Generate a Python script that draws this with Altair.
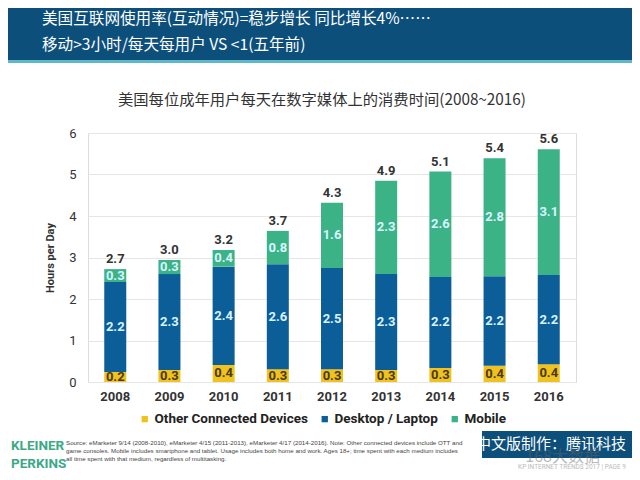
import altair as alt
import pandas as pd

years = ["2008", "2009", "2010", "2011", "2012", "2013", "2014", "2015", "2016"]
series = ["Other Connected Devices", "Desktop / Laptop", "Mobile"]
other = [0.24, 0.29, 0.41, 0.31, 0.31, 0.29, 0.34, 0.39, 0.43]
desktop = [2.17, 2.31, 2.37, 2.53, 2.44, 2.31, 2.19, 2.16, 2.15]
mobile = [0.31, 0.34, 0.40, 0.80, 1.57, 2.25, 2.54, 2.84, 3.03]
other_lbl = ["0.2", "0.3", "0.4", "0.3", "0.3", "0.3", "0.3", "0.4", "0.4"]
desktop_lbl = ["2.2", "2.3", "2.4", "2.6", "2.5", "2.3", "2.2", "2.2", "2.2"]
mobile_lbl = ["0.3", "0.3", "0.4", "0.8", "1.6", "2.3", "2.6", "2.8", "3.1"]
total_lbl = ["2.7", "3.0", "3.2", "3.7", "4.3", "4.9", "5.1", "5.4", "5.6"]
colors = ["#f0c21f", "#0b5e98", "#3cb386"]
label_colors = ["#4a3a0c", "#d8f3ff", "#d8f3ff"]

header1 = "美国互联网使用率(互动情况)=稳步增长 同比增长4%……"
header2 = "移动>3小时/每天每用户 VS <1(五年前)"
title = "美国每位成年用户每天在数字媒体上的消费时间(2008~2016)"
source_lines = [
    "Source: eMarketer 9/14 (2008-2010), eMarketer 4/15 (2011-2013), eMarketer 4/17 (2014-2016). Note: Other connected devices include OTT and",
    "game consoles. Mobile includes smartphone and tablet. Usage includes both home and work. Ages 18+; time spent with each medium includes",
    "all time spent with that medium, regardless of multitasking.",
]

rows = []
for i, y in enumerate(years):
    for k, (vals, lbls) in enumerate([(other, other_lbl), (desktop, desktop_lbl), (mobile, mobile_lbl)]):
        rows.append({"year": y, "series": series[k], "value": vals[i], "label": lbls[i], "ord": k})
df = pd.DataFrame(rows)
tot = pd.DataFrame({"year": years, "total": [a + b + c for a, b, c in zip(other, desktop, mobile)], "label": total_lbl})

W, H = 488, 249
FONT = "Roboto"
CJK = "Noto Sans CJK SC"

xenc = alt.X("year:N", sort=years, title=None,
             scale=alt.Scale(paddingInner=0.594, paddingOuter=0.3),
             axis=alt.Axis(labelFont=FONT, labelFontSize=13, labelFontWeight="bold", labelColor="#333333",
                           ticks=False, domain=False, labelPadding=8, labelAngle=0))

bars = alt.Chart(df).mark_bar().encode(
    x=xenc,
    y=alt.Y("value:Q", stack="zero",
            scale=alt.Scale(domain=[0, 6], nice=False),
            axis=alt.Axis(values=[0, 1, 2, 3, 4, 5, 6], title="Hours per Day", titleFont=FONT,
                          titleFontSize=11, titleFontWeight="bold", titleColor="#333333",
                          titleX=-38, titleY=H / 2, titleAngle=-90, titleBaseline="middle", titleAlign="center",
                          labelFont=FONT, labelFontSize=13, labelColor="#333333", labelPadding=12,
                          ticks=False, domain=False, gridColor="#e6e6e6", gridWidth=1)),
    color=alt.Color("series:N", sort=series, scale=alt.Scale(domain=series, range=colors),
                    legend=alt.Legend(title=None, orient="none", legendX=50, legendY=279, direction="horizontal",
                                      symbolType="square", symbolSize=40, symbolStrokeWidth=0,
                                      labelFont=FONT, labelFontSize=13.5, labelFontWeight="bold",
                                      labelColor="#222222", columnPadding=10, labelOffset=3)),
    order=alt.Order("ord:Q"),
)

seg_text = alt.Chart(df).transform_stack(
    stack="value", groupby=["year"], as_=["y0", "y1"], sort=[alt.SortField("ord")]
).transform_calculate(mid="(datum.y0 + datum.y1) / 2").mark_text(
    font=FONT, fontSize=13, fontWeight="bold"
).encode(
    x=alt.X("year:N", sort=years),
    y=alt.Y("mid:Q"),
    text="label:N",
    color=alt.Color("series:N", scale=alt.Scale(domain=series, range=label_colors), legend=None),
)

tot_text = alt.Chart(tot).mark_text(font=FONT, fontSize=13, fontWeight="bold", color="#333333", dy=-10).encode(
    x=alt.X("year:N", sort=years), y=alt.Y("total:Q"), text="label:N")

one = pd.DataFrame({"a": [0]})
def rect(x1, y1, x2, y2, color):
    return alt.Chart(one).mark_rect(color=color).encode(
        x=alt.value(x1 - 88), x2=alt.value(x2 - 88), y=alt.value(y1 - 133), y2=alt.value(y2 - 133))

def txt(s, px, py, size, color, font=FONT, weight="normal", align="left", opacity=1):
    return alt.Chart(one).mark_text(text=s, font=font, fontSize=size, fontWeight=weight, color=color,
                                    align=align, baseline="middle", opacity=opacity).encode(
        x=alt.value(px - 88), y=alt.value(py - 133))

header = rect(8, 8, 632, 60, "#0d4f7b")
header_line = rect(8, 60, 632, 63, "#5fb8c8")
badge = rect(482, 431, 632, 458, "#0d4f7b")

layers = [header, header_line,
          txt(header1, 42, 19, 15.6, "#ffffff", font=CJK),
          txt(header2, 42, 45, 15.6, "#ffffff", font=CJK),
          txt(title, 322, 100, 15.3, "#333333", font=CJK, align="center"),
          bars, seg_text, tot_text,
          txt("KLEINER", 11, 446, 13.5, "#3aa987", weight="bold"),
          txt("PERKINS", 11, 464, 13.5, "#3aa987", weight="bold"),
          badge,
          txt("中文版制作：腾讯科技", 626, 444, 15, "#ffffff", font=CJK, align="right"),
          txt("KP INTERNET TRENDS 2017  |  PAGE 9", 626, 467, 6.5, "#bbbbbb", align="right"),
          txt("168大数据", 600, 457, 16, "#666666", font=CJK, align="right", opacity=0.45)]
for i, s in enumerate(source_lines):
    layers.append(txt(s, 66, 443 + 8 * i, 6.2, "#444444", font="Liberation Sans"))

chart = alt.layer(*layers).properties(
    width=W, height=H,
    autosize=alt.AutoSizeParams(type="none"),
    padding={"left": 80, "top": 125, "right": 56, "bottom": 90},
).resolve_scale(color="independent").configure_view(stroke=None).configure(background="#ffffff")

chart.save("out.html", embed_options={"renderer": "svg", "actions": False})
